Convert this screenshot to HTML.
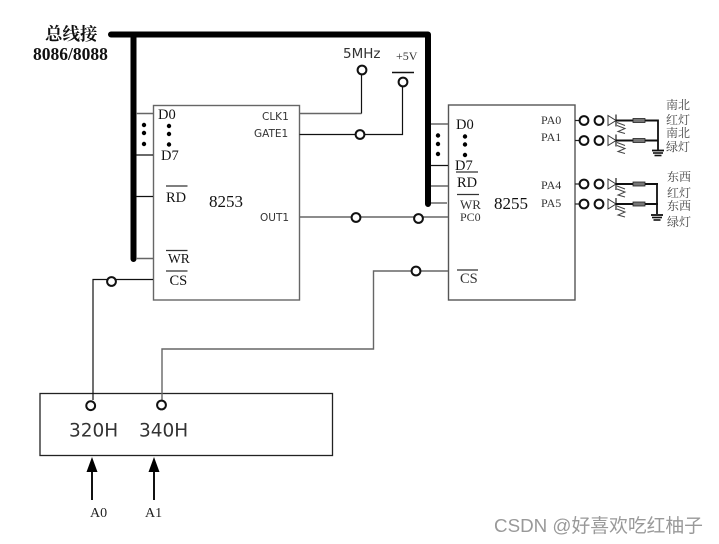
<!DOCTYPE html>
<html>
<head>
<meta charset="utf-8">
<style>
html,body{margin:0;padding:0;background:#fff;width:719px;height:544px;overflow:hidden}
svg{display:block}
text{font-family:"Liberation Serif","Noto Serif CJK SC",serif;fill:#111}
.s{font-family:"DejaVu Sans","Liberation Sans",sans-serif;fill:#333}
.c{fill:#fff;stroke:#111;stroke-width:2}
.l{stroke:#111;stroke-width:1.2;fill:none}
.g{stroke:#666;stroke-width:1.4;fill:none}
.z{font-family:"Noto Serif CJK SC",serif;font-size:12px;fill:#444}
</style>
</head>
<body>
<svg width="719" height="544" viewBox="0 0 719 544" xmlns="http://www.w3.org/2000/svg">
<defs>
<g id="led">
<path d="M575 0H580" stroke="#222" stroke-width="1.2"/>
<circle cx="584" cy="0" r="4.4" fill="#fff" stroke="#111" stroke-width="2"/>
<circle cx="599" cy="0" r="4.4" fill="#fff" stroke="#111" stroke-width="2"/>
<path d="M608 -5L616 0L608 5Z" fill="#fff" stroke="#333" stroke-width="1"/>
<path d="M616 -6V6" stroke="#222" stroke-width="1.2"/>
<path d="M617 2L625 5M617 5L625 8L618 11L625 13" stroke="#444" stroke-width="1" fill="none"/>
<path d="M616 0H658" stroke="#111" stroke-width="2"/>
<rect x="633" y="-2" width="12" height="4" fill="#777" stroke="#222" stroke-width=".8"/>
</g>
<g id="gnd">
<path d="M-6 0H6" stroke="#111" stroke-width="1.8"/>
<path d="M-5 2.500H5" stroke="#111" stroke-width="1.600"/>
<path d="M-3.500 5H3.500" stroke="#111" stroke-width="1.600"/>
</g>
</defs>

<!-- bus -->
<path d="M111 34.5H428V204M133.5 34.5V259" fill="none" stroke="#000" stroke-width="6" stroke-linecap="round" stroke-linejoin="round"/>

<!-- chips -->
<rect x="153.5" y="105.5" width="146" height="194.5" fill="none" stroke="#666" stroke-width="1.4"/>
<rect x="448.5" y="105" width="126.5" height="195" fill="none" stroke="#555" stroke-width="1.4"/>
<rect x="40" y="393.5" width="292.5" height="62" fill="none" stroke="#222" stroke-width="1.3"/>

<!-- 8253 left stubs -->
<path class="g" d="M136 113.5H153"/>
<path class="l" d="M136 155H153M136 196.5H153"/>
<path class="g" d="M136 258.5H153"/>
<path class="l" d="M153 279.5H93V400"/>

<!-- 8253 right -->
<path class="g" d="M299.5 113.5H361.5"/>
<path class="l" d="M361.5 113.5V75"/>
<path class="l" d="M299.5 134.5H402.5V87"/>
<path class="g" d="M299.5 217H448"/>
<path d="M392 72.5H414" stroke="#111" stroke-width="1.6"/>

<!-- 8255 left stubs -->
<path class="g" d="M431 124H448"/>
<path class="l" d="M431 165.5H448"/>
<path class="g" d="M431 186H448M431 203H447"/>
<path class="g" d="M448 271H373.500V349H162V400"/>

<!-- junction circles -->
<circle class="c" cx="111.5" cy="281.5" r="4.4"/>
<circle class="c" cx="362" cy="70" r="4.4"/>
<circle class="c" cx="403" cy="82" r="4.4"/>
<circle class="c" cx="360" cy="134.5" r="4.4"/>
<circle class="c" cx="356" cy="217.5" r="4.4"/>
<circle class="c" cx="418.5" cy="218.5" r="4.4"/>
<circle class="c" cx="416" cy="271" r="4.4"/>
<circle class="c" cx="90.7" cy="405.7" r="4.4"/>
<circle class="c" cx="161.5" cy="405" r="4.4"/>

<!-- dots -->
<g fill="#000">
<circle cx="144" cy="125" r="2.2"/><circle cx="144" cy="133" r="2.2"/><circle cx="144" cy="144" r="2.2"/>
<circle cx="169" cy="126" r="2.2"/><circle cx="169" cy="134" r="2.2"/><circle cx="169" cy="144.5" r="2.2"/>
<circle cx="438" cy="135.5" r="2.2"/><circle cx="438" cy="144" r="2.2"/><circle cx="438" cy="154" r="2.2"/>
<circle cx="465" cy="136.5" r="2.2"/><circle cx="465" cy="144.5" r="2.2"/><circle cx="465" cy="155" r="2.2"/>
</g>

<!-- overbars -->
<path d="M166 186H187.500M166 250.500H187.500M166 271H187.500M456 172H478M457 194.500H479M457 270H478" stroke="#333" stroke-width="1.200"/>

<!-- bus caption -->
<text x="45" y="40" font-size="17.500" font-weight="700">总线接</text>
<text x="33" y="60" font-size="17.500" font-weight="700">8086/8088</text>

<!-- 8253 labels -->
<text x="158" y="119" font-size="14.500">D0</text>
<text x="161" y="160" font-size="14.500">D7</text>
<text x="166" y="202" font-size="14.500">RD</text>
<text x="168" y="263" font-size="13.500">WR</text>
<text x="169.500" y="285" font-size="14.500">CS</text>
<text x="209" y="207" font-size="17">8253</text>
<text class="s" x="262" y="120" font-size="10.500">CLK1</text>
<text class="s" x="254" y="137" font-size="10.500">GATE1</text>
<text class="s" x="260" y="221" font-size="10.500">OUT1</text>

<text class="s" x="343" y="58" font-size="13.500">5MHz</text>
<text x="396" y="60" font-size="12" style="fill:#333">+5V</text>

<!-- 8255 labels -->
<text x="456" y="129" font-size="14.500">D0</text>
<text x="455" y="170" font-size="14.500">D7</text>
<text x="457" y="187" font-size="14.500">RD</text>
<text x="460" y="209" font-size="13" style="fill:#333">WR</text>
<text x="460" y="221" font-size="12" style="fill:#333">PC0</text>
<text x="494" y="209" font-size="17">8255</text>
<text x="460" y="283" font-size="14.500" style="fill:#333">CS</text>
<g font-size="12">
<text x="541" y="124" style="fill:#333">PA0</text>
<text x="541" y="141" style="fill:#333">PA1</text>
<text x="541" y="189" style="fill:#333">PA4</text>
<text x="541" y="207" style="fill:#333">PA5</text>
</g>

<!-- LEDs -->
<use href="#led" x="0" y="120.500"/>
<use href="#led" x="0" y="140.500"/>
<use href="#led" x="0" y="184"/>
<use href="#led" x="0" y="204"/>
<path d="M658 119.500V150" stroke="#111" stroke-width="1.800" fill="none"/>
<path d="M657 183V214" stroke="#111" stroke-width="1.800" fill="none"/>
<use href="#gnd" x="658" y="150.500"/>
<use href="#gnd" x="657" y="215"/>

<text class="z" x="666" y="109">南北</text>
<text class="z" x="666" y="124">红灯</text>
<text class="z" x="666" y="137">南北</text>
<text class="z" x="666" y="151">绿灯</text>
<text class="z" x="667" y="181">东西</text>
<text class="z" x="667" y="197">红灯</text>
<text class="z" x="667" y="210">东西</text>
<text class="z" x="667" y="226">绿灯</text>

<!-- decoder -->
<text class="s" x="69" y="436.500" font-size="18.500">320H</text>
<text class="s" x="139" y="436.500" font-size="18.500">340H</text>

<!-- arrows -->
<path d="M92 500V470M154 500V470" stroke="#111" stroke-width="2"/>
<path d="M92 457L86.500 472H97.500ZM154 457L148.500 472H159.500Z" fill="#000"/>
<text x="90" y="517" font-size="14" style="fill:#222">A0</text>
<text x="145" y="517" font-size="14" style="fill:#222">A1</text>

<!-- watermark -->
<text x="494" y="532" font-size="18.800" style="font-family:'Liberation Sans','Noto Sans CJK SC',sans-serif;fill:#999">CSDN @好喜欢吃红柚子</text>
</svg>
</body>
</html>
